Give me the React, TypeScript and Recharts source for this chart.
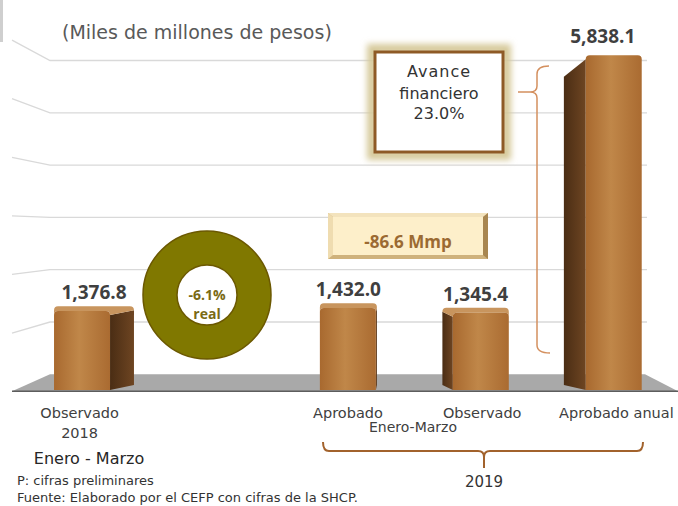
import { BarChart, Bar, XAxis, YAxis, ReferenceLine, LabelList } from 'recharts';

const categories = ['Observado 2018', ' ', 'Aprobado', 'Observado', 'Aprobado anual'];
const tickLines = [['Observado', '2018'], [], ['Aprobado'], ['Observado'], ['Aprobado anual']];
const values = [1376.8, null, 1432.0, 1345.4, 5838.1];
const gridTicks = [1000, 2000, 3000, 4000, 5000, 6000];

const data = categories.map((name, i) => ({ name, value: values[i] }));

const FONT = '"DejaVu Sans", sans-serif';
const VIEW_X = 360;

function Bar3D(props: any) {
  const { x, y, width, height } = props;
  if (!height || height <= 0) return null;
  const cx = x + width / 2;
  const s = Math.abs(cx - VIEW_X) * 0.09;
  const dir = cx < VIEW_X ? 1 : -1;
  const total = width + s;
  const left = cx - total / 2;
  const fx = dir > 0 ? left : left + s;
  const w = width;
  const bottom = y + height;
  const cap = Math.max(0, Math.min(6, (y - 250) * 0.08));
  const r = 4;
  const front = `M${fx},${bottom} L${fx},${y + r} Q${fx},${y} ${fx + r},${y} L${fx + w - r},${y} Q${fx + w},${y} ${fx + w},${y + r} L${fx + w},${bottom} Z`;
  const ex = dir > 0 ? fx + w : fx;
  const bx = ex + dir * s;
  const by = cap > 0 ? y - cap : y + s * 0.8;
  const side = s > 1 ? `M${ex},${y + r} L${bx},${by + r} L${bx},${bottom - 5} L${ex},${bottom} Z` : '';
  const shift = dir * s;
  const top =
    cap > 0
      ? `M${fx + r},${y} L${fx + w - r},${y} Q${fx + w},${y} ${fx + w},${y + r} L${fx + w + Math.max(0, shift)},${y - cap + r} Q${fx + w + Math.max(0, shift)},${y - cap} ${fx + w + Math.max(0, shift) - r},${y - cap} L${fx + Math.min(0, shift) + r},${y - cap} Q${fx + Math.min(0, shift)},${y - cap} ${fx + Math.min(0, shift)},${y - cap + r} L${fx},${y + r} Q${fx},${y} ${fx + r},${y} Z`
      : '';
  return (
    <g>
      {side && <path d={side} fill="url(#sideGrad)" />}
      {top && <path d={top} fill="#c8955e" />}
      <path d={front} fill="url(#frontGrad)" />
    </g>
  );
}

function GridLine(props: any) {
  const y = props.y1 ?? props.y;
  if (y == null || isNaN(y)) return null;
  const ly = y + (y - 230) * 0.12;
  return <path d={`M12,${ly} L50,${y} L647,${y}`} stroke="#d9d9d9" strokeWidth={1.3} fill="none" />;
}

function Floor(props: any) {
  const y = props.y1 ?? props.y;
  if (y == null || isNaN(y)) return null;
  const f = y + 17;
  return (
    <g>
      <path d={`M50,${y} L645,${y} L678,${f} L12,${f} Z`} fill="#a9a9a9" />
      <line x1={12} y1={f} x2={678} y2={f} stroke="#5d5d5d" strokeWidth={1.5} />
    </g>
  );
}

function Tick(props: any) {
  const { x, y, payload } = props;
  const i = categories.indexOf(payload.value);
  const lines = tickLines[i] || [];
  const dx = (x - 348) * 0.055;
  return (
    <g>
      {lines.map((t, k) => (
        <text key={k} x={x + dx} y={y + 28 + k * 20} textAnchor="middle" fontFamily={FONT} fontSize={14.5} fill="#404040">
          {t}
        </text>
      ))}
    </g>
  );
}

const fmt = (v: any) => (v == null ? '' : Number(v).toLocaleString('en-US', { minimumFractionDigits: 1, maximumFractionDigits: 1 }));

export default function App() {
  return (
    <div style={{ position: 'absolute', left: 0, top: 0, width: 678, height: 506, background: '#fff' }}>
      <BarChart width={678} height={506} data={data} margin={{ top: 46, right: 12, left: 30, bottom: 86 }}>
        <defs>
          <linearGradient id="frontGrad" x1="0" y1="0" x2="1" y2="0">
            <stop offset="0%" stopColor="#a8692f" />
            <stop offset="45%" stopColor="#c08749" />
            <stop offset="100%" stopColor="#aa6b31" />
          </linearGradient>
          <linearGradient id="sideGrad" x1="0" y1="0" x2="1" y2="0">
            <stop offset="0%" stopColor="#4a2d14" />
            <stop offset="100%" stopColor="#6e4522" />
          </linearGradient>
        </defs>
        <XAxis dataKey="name" axisLine={false} tickLine={false} tickSize={0} tickMargin={0} height={30} interval={0} tick={<Tick />} />
        <YAxis yAxisId="val" hide domain={[0, 6000]} allowDataOverflow />
        <YAxis yAxisId="grid" hide domain={[-300, 6277]} allowDataOverflow />
        <ReferenceLine yAxisId="grid" y={0} ifOverflow="visible" isFront={false} zIndex={-60} shape={(p: any) => <Floor {...p} />} />
        {gridTicks.map((t) => (
          <ReferenceLine key={t} yAxisId="grid" y={t} ifOverflow="visible" isFront={false} zIndex={-60} shape={(p: any) => <GridLine {...p} />} />
        ))}
        <Bar yAxisId="val" dataKey="value" barSize={56} shape={<Bar3D />} isAnimationActive={false}>
          <LabelList dataKey="value" position="top" offset={12} formatter={fmt} fill="#3f3f3f" fontSize={19} fontWeight={700} fontFamily='"Open Sans", sans-serif' />
        </Bar>
      </BarChart>
      <svg width={678} height={506} style={{ position: 'absolute', left: 0, top: 0, pointerEvents: 'none' }}>
        <defs>
          <filter id="glow" x="-20%" y="-20%" width="140%" height="140%">
            <feGaussianBlur stdDeviation="3" />
          </filter>
        </defs>
        <rect x={0} y={0} width={3} height={42} fill="#cfcfcf" />
        <text x={62} y={39} fontFamily={FONT} fontSize={19} fill="#595959">(Miles de millones de pesos)</text>

        {/* Avance financiero */}
        <rect x={372} y={49} width={134} height={106} fill="none" stroke="#d6c99a" strokeWidth={10} filter="url(#glow)" />
        <rect x={375} y={52} width={128} height={100} fill="#fff" stroke="#8e5a26" strokeWidth={3} />
        <text x={439} y={77} textAnchor="middle" fontFamily={FONT} fontSize={16} fill="#333" letterSpacing={1}>Avance</text>
        <text x={439} y={99} textAnchor="middle" fontFamily={FONT} fontSize={16} fill="#333">financiero</text>
        <text x={439} y={119} textAnchor="middle" fontFamily={FONT} fontSize={16} fill="#333">23.0%</text>
        <path d="M549,66 Q537,66 537,74 L537,86 Q537,92 530,92 L518,92 M530,92 Q537,92 537,98 L537,345 Q537,353 550,353" fill="none" stroke="#d4905f" strokeWidth={1.5} />

        {/* -86.6 Mmp */}
        <rect x={328} y={213} width={160} height={46} fill="#cfb27c" />
        <polygon points="328,213 488,213 483,217 333,217" fill="#f3e3bd" />
        <polygon points="328,213 333,217 333,255 328,259" fill="#efdcb0" />
        <polygon points="488,213 488,259 483,255 483,217" fill="#a88650" />
        <rect x={333} y={217} width={150} height={38} fill="#fdefca" />
        <text x={408} y={248} textAnchor="middle" fontFamily='"Open Sans", sans-serif' fontWeight={700} fontSize={17} fill="#9b6a32">-86.6 Mmp</text>

        {/* donut */}
        <circle cx={207} cy={295} r={47} fill="none" stroke="#807800" strokeWidth={34} />
        <circle cx={207} cy={295} r={64} fill="none" stroke="#6b5800" strokeWidth={1.5} />
        <circle cx={207} cy={295} r={30} fill="#fff" stroke="#6b5800" strokeWidth={1.5} />
        <text x={207} y={300} textAnchor="middle" fontFamily='"Open Sans", sans-serif' fontWeight={700} fontSize={14} fill="#7a6a14">-6.1%</text>
        <text x={207} y={319} textAnchor="middle" fontFamily='"Open Sans", sans-serif' fontWeight={700} fontSize={14} fill="#7a6a14">real</text>

        <text x={413} y={432} textAnchor="middle" fontFamily={FONT} fontSize={14} fill="#404040">Enero-Marzo</text>
        <text x={89} y={464} textAnchor="middle" fontFamily={FONT} fontSize={16} fill="#262626">Enero - Marzo</text>
        <path d="M323,442 Q323,451 329,451 L478,451 Q484,451 484,457 Q484,451 490,451 L637,451 Q643,451 643,442 M484,457 L484,468" fill="none" stroke="#a2622c" strokeWidth={2} />
        <text x={484} y={487} textAnchor="middle" fontFamily={FONT} fontSize={15} fill="#333">2019</text>
        <text x={17} y={485} fontFamily={FONT} fontSize={13} fill="#333">P: cifras preliminares</text>
        <text x={17} y={502} fontFamily={FONT} fontSize={13} fill="#333">Fuente: Elaborado por el CEFP con cifras de la SHCP.</text>
      </svg>
    </div>
  );
}
